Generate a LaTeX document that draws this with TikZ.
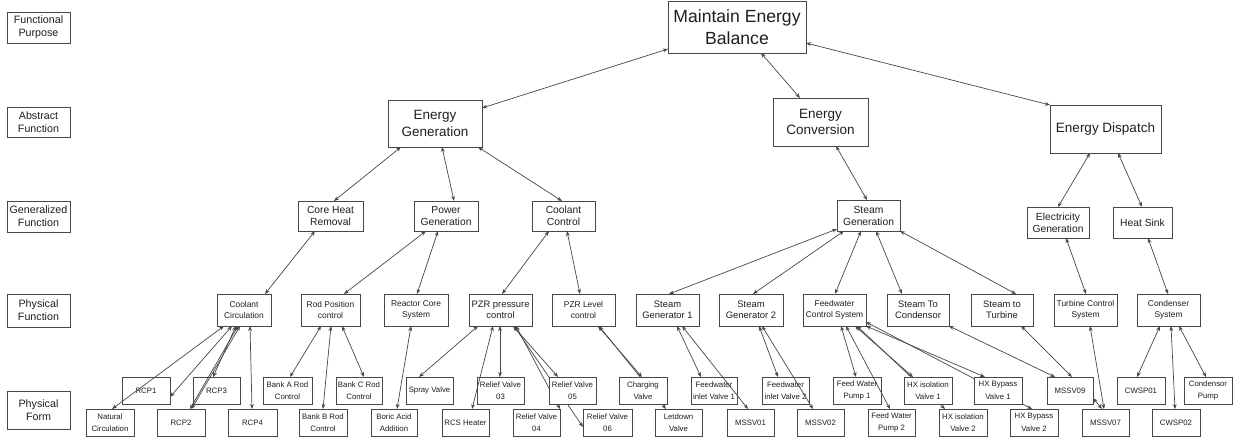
\documentclass[tikz,border=0pt]{standalone}
\usepackage{fontspec}
\setmainfont{Liberation Sans}
\usetikzlibrary{arrows.meta,backgrounds}
\newcommand\bx[7]{\node[#6, minimum width={(#4-#2)*1pt}, minimum height={(#5-#3)*1pt}] (#1) at ({(#2+#4)/2},{(#3+#5)/2}) {#7};}
\tikzset{
  box/.style={draw=black!72, line width=0.9pt, fill=white, inner sep=0pt, outer sep=0pt, align=center, text=black!88},
  lab/.style={box, font=\fontsize{10.7}{12.7}\selectfont},
  topbox/.style={box, font=\fontsize{17.6}{21.5}\selectfont},
  abbox/.style={box, font=\fontsize{13.5}{16.5}\selectfont},
  gfbox/.style={box, font=\fontsize{10.3}{12}\selectfont},
  pfb/.style={box, font=\fontsize{9.4}{11.5}\selectfont},
  pfs/.style={box, font=\fontsize{8.4}{11.5}\selectfont},
  pform/.style={box, font=\fontsize{7.8}{12.5}\selectfont},
  conn/.style={draw=black!72, line width=0.7pt, {Stealth[length=5pt,width=3.8pt]}-{Stealth[length=5pt,width=3.8pt]}}
}
\begin{document}
\begin{tikzpicture}[x=1pt,y=-1pt]
\begin{scope}[on background layer]
\fill[white] (0,0) rectangle (1237,441);
\end{scope}
\useasboundingbox (0,0) rectangle (1237,441);
% level labels
\bx{LFP}{7}{12}{70}{43}{lab}{Functional\\Purpose}
\bx{LAF}{7}{107}{70}{137}{lab}{Abstract\\Function}
\bx{LGF}{7}{201}{70}{232}{lab}{Generalized\\Function}
\bx{LPF}{7}{294}{70}{327}{lab}{Physical\\Function}
\bx{LPFo}{7}{391}{70}{429}{lab}{Physical\\Form}
% functional purpose / abstract
\bx{MEB}{668}{1}{806}{53}{topbox}{Maintain Energy\\Balance}
\bx{EG}{388}{100}{482}{147}{abbox}{Energy\\Generation}
\bx{EC}{773}{98}{868}{146}{abbox}{Energy\\Conversion}
\bx{ED}{1050}{105}{1161}{153}{abbox}{Energy Dispatch}
% generalized
\bx{CHR}{298}{201}{363}{231}{gfbox}{Core Heat\\Removal}
\bx{PG}{414}{201}{478}{231}{gfbox}{Power\\Generation}
\bx{CC}{532}{201}{595}{231}{gfbox}{Coolant\\Control}
\bx{SG}{837}{200}{900}{231}{gfbox}{Steam\\Generation}
\bx{ElG}{1027}{207}{1089}{238}{gfbox}{Electricity\\Generation}
\bx{HS}{1113}{207}{1172}{238}{gfbox}{Heat Sink}
% physical function
\bx{CCi}{217}{294}{271}{326}{pfs}{Coolant\\Circulation}
\bx{RPC}{301}{294}{360}{326}{pfs}{Rod Position\\control}
\bx{RCS}{384}{294}{448}{326}{pfs}{Reactor Core\\System}
\bx{PZP}{469}{294}{532}{326}{pfb}{PZR pressure\\control}
\bx{PZL}{552}{294}{615}{326}{pfs}{PZR Level\\control}
\bx{SG1}{636}{294}{699}{326}{pfb}{Steam\\Generator 1}
\bx{SG2}{719}{294}{783}{326}{pfb}{Steam\\Generator 2}
\bx{FCS}{803}{294}{866}{326}{pfs}{Feedwater\\Control System}
\bx{STC}{887}{294}{949}{326}{pfb}{Steam To\\Condensor}
\bx{STT}{971}{294}{1033}{326}{pfb}{Steam to\\Turbine}
\bx{TCS}{1054}{294}{1117}{326}{pfs}{Turbine Control\\System}
\bx{CSy}{1137}{294}{1200}{326}{pfs}{Condenser\\System}
% physical form, upper row
\bx{RCP1}{122}{377}{170}{404}{pform}{RCP1}
\bx{RCP3}{193}{377}{240}{404}{pform}{RCP3}
\bx{BKA}{263}{377}{312}{404}{pform}{Bank A Rod\\Control}
\bx{BKC}{336}{377}{382}{404}{pform}{Bank C Rod\\Control}
\bx{SPV}{406}{377}{453}{404}{pform}{Spray Valve}
\bx{RV03}{477}{377}{524}{404}{pform}{Relief Valve\\03}
\bx{RV05}{549}{377}{596}{404}{pform}{Relief Valve\\05}
\bx{CHV}{619}{377}{667}{404}{pform}{Charging\\Valve}
\bx{FIV1}{691}{377}{737}{404}{pform}{Feedwater\\inlet Valve 1}
\bx{FIV2}{762}{377}{809}{404}{pform}{Feedwater\\inlet Valve 2}
\bx{FWP1}{833}{377}{881}{404}{pform}{Feed Water\\Pump 1}
\bx{HXI1}{904}{377}{952}{404}{pform}{HX isolation\\Valve 1}
\bx{HXB1}{974}{377}{1022}{404}{pform}{HX Bypass\\Valve 1}
\bx{MS09}{1047}{377}{1093}{404}{pform}{MSSV09}
\bx{CW01}{1117}{377}{1165}{404}{pform}{CWSP01}
\bx{CDP}{1184}{377}{1232}{404}{pform}{Condensor\\Pump}
% physical form, lower row
\bx{NC}{86}{409}{134}{436}{pform}{Natural\\Circulation}
\bx{RCP2}{157}{409}{205}{436}{pform}{RCP2}
\bx{RCP4}{228}{409}{277}{436}{pform}{RCP4}
\bx{BKB}{299}{409}{347}{436}{pform}{Bank B Rod\\Control}
\bx{BAA}{371}{409}{417}{436}{pform}{Boric Acid\\Addition}
\bx{RCSH}{442}{409}{489}{436}{pform}{RCS Heater}
\bx{RV04}{513}{409}{560}{436}{pform}{Relief Valve\\04}
\bx{RV06}{583}{409}{632}{436}{pform}{Relief Valve\\06}
\bx{LDV}{655}{409}{702}{436}{pform}{Letdown\\Valve}
\bx{MS01}{727}{409}{774}{436}{pform}{MSSV01}
\bx{MS02}{797}{409}{844}{436}{pform}{MSSV02}
\bx{FWP2}{868}{409}{915}{436}{pform}{Feed Water\\Pump 2}
\bx{HXI2}{939}{409}{987}{436}{pform}{HX isolation\\Valve 2}
\bx{HXB2}{1010}{409}{1058}{436}{pform}{HX Bypass\\Valve 2}
\bx{MS07}{1082}{409}{1129}{436}{pform}{MSSV07}
\bx{CW02}{1152}{409}{1200}{436}{pform}{CWSP02}
% connectors hidden behind boxes
\begin{scope}[on background layer]
\draw[conn] ([xshift=13.5pt]PZP.south) -- ([yshift=-4.5pt]RV06.west);
\draw[conn] ([xshift=15.5pt]PZP.south) -- (RV04.north east);
\draw[conn] ([xshift=15.5pt]PZL.south) -- ([xshift=-12.5pt]LDV.north);
\draw[conn] ([xshift=22.5pt]FCS.south) -- ([xshift=-18pt]HXI2.north);
\draw[conn] ([yshift=-12pt]FCS.east) -- ([xshift=-2pt]HXB2.north);
\end{scope}
% connectors
\draw[conn] ([yshift=-22pt]MEB.west) -- ([yshift=15.5pt]EG.east);
\draw[conn] ([xshift=24pt]MEB.south) -- ([xshift=-20.5pt]EC.north);
\draw[conn] ([yshift=-16pt]MEB.east) -- (ED.north west);
\draw[conn] ([xshift=-34pt]EG.south) -- ([xshift=3.5pt]CHR.north);
\draw[conn] ([xshift=7pt]EG.south) -- ([xshift=8pt]PG.north);
\draw[conn] ([xshift=43pt]EG.south) -- ([xshift=-1.5pt]CC.north);
\draw[conn] ([xshift=15.5pt]EC.south) -- ([xshift=-1.5pt]SG.north);
\draw[conn] ([xshift=-15.5pt]ED.south) -- (ElG.north);
\draw[conn] ([xshift=12.5pt]ED.south) -- ([xshift=-0.5pt]HS.north);
\draw[conn] ([xshift=-15.5pt]CHR.south) -- ([xshift=21pt]CCi.north);
\draw[conn] ([xshift=-20pt]PG.south) -- ([xshift=13.5pt]RPC.north);
\draw[conn] ([xshift=-8pt]PG.south) -- ([xshift=1pt]RCS.north);
\draw[conn] ([xshift=-14.5pt]CC.south) -- ([xshift=1.5pt]PZP.north);
\draw[conn] ([xshift=3.5pt]CC.south) -- ([xshift=-3.5pt]PZL.north);
\draw[conn] ([yshift=-13.5pt]SG.west) -- ([xshift=1.5pt]SG1.north);
\draw[conn] ([xshift=-24.5pt]SG.south) -- ([xshift=2pt]SG2.north);
\draw[conn] ([xshift=-7.5pt]SG.south) -- ([xshift=0.5pt]FCS.north);
\draw[conn] ([xshift=7.5pt]SG.south) -- ([xshift=-16pt]STC.north);
\draw[conn] (SG.south east) -- ([xshift=14pt]STT.north);
\draw[conn] ([xshift=8pt]ElG.south) -- ([xshift=0.5pt]TCS.north);
\draw[conn] ([xshift=5.5pt]HS.south) -- ([xshift=-0.5pt]CSy.north);
\draw[conn] ([xshift=-20pt]CCi.south) -- ([xshift=2pt]NC.north);
\draw[conn] ([xshift=-12pt]CCi.south) -- ([yshift=-6.5pt]RCP1.east);
\draw[conn] ([xshift=-8pt]CCi.south) -- ([xshift=-3.5pt]RCP3.north);
\draw[conn] ([xshift=-6pt]CCi.south) -- ([xshift=9pt]RCP2.north);
\draw[conn] ([xshift=-4pt]CCi.south) -- ([xshift=10.5pt]RCP2.north);
\draw[conn] ([xshift=6pt]CCi.south) -- ([xshift=-0.5pt]RCP4.north);
\draw[conn] ([xshift=-9.5pt]RPC.south) -- ([xshift=2.5pt]BKA.north);
\draw[conn] ([xshift=0.5pt]RPC.south) -- (BKB.north);
\draw[conn] ([xshift=11.5pt]RPC.south) -- ([xshift=5pt]BKC.north);
\draw[conn] ([xshift=-5pt]RCS.south) -- ([xshift=3pt]BAA.north);
\draw[conn] ([xshift=-22.5pt]PZP.south) -- ([xshift=-10.5pt]SPV.north);
\draw[conn] ([xshift=-7.5pt]PZP.south) -- ([xshift=6.5pt]RCSH.north);
\draw[conn] ([xshift=-0.5pt]PZP.south) -- ([xshift=-0.5pt]RV03.north);
\draw[conn] ([xshift=12.5pt]PZP.south) -- ([xshift=-14.5pt]RV05.north);
\draw[conn] ([xshift=14.5pt]PZL.south) -- ([xshift=-1pt]CHV.north);
\draw[conn] ([xshift=9.5pt]SG1.south) -- ([xshift=-13pt]FIV1.north);
\draw[conn] ([xshift=14.5pt]SG1.south) -- ([xshift=-2.5pt]MS01.north);
\draw[conn] ([xshift=8pt]SG2.south) -- ([xshift=-7.5pt]FIV2.north);
\draw[conn] ([xshift=11pt]SG2.south) -- ([xshift=-7.5pt]MS02.north);
\draw[conn] ([xshift=6.5pt]FCS.south) -- ([xshift=-1pt]FWP1.north);
\draw[conn] ([xshift=11.5pt]FCS.south) -- ([xshift=-1.5pt]FWP2.north);
\draw[conn] ([xshift=20.5pt]FCS.south) -- ([xshift=-15pt]HXI1.north);
\draw[conn] (FCS.south east) -- ([xshift=-13pt]HXB1.north);
\draw[conn] (STC.south east) -- ([xshift=-15pt]MS09.north);
\draw[conn] ([xshift=19pt]STT.south) -- ([xshift=2pt]MS09.north);
\draw[conn] ([xshift=4.5pt]TCS.south) -- ([xshift=-1.5pt]MS07.north);
\draw[conn] ([yshift=-7.5pt]MS09.east) -- ([xshift=-3.5pt]MS07.north);
\draw[conn] ([xshift=-8.5pt]CSy.south) -- ([xshift=-4pt]CW01.north);
\draw[conn] ([xshift=2.5pt]CSy.south) -- ([xshift=-1pt]CW02.north);
\draw[conn] ([xshift=10.5pt]CSy.south) -- ([xshift=-2pt]CDP.north);
\end{tikzpicture}
\end{document}
